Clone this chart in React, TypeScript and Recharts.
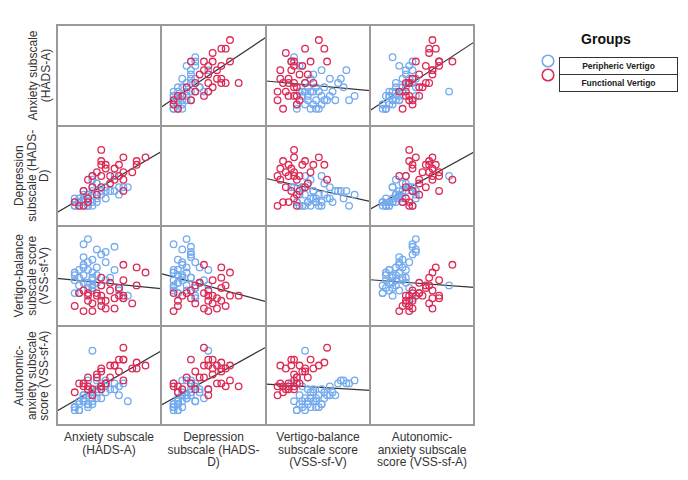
import React from 'react';
import { ScatterChart, Scatter, XAxis, YAxis, ReferenceLine } from 'recharts';

// Peripheric vertigo (blue), one entry per subject
const periAnxiety = [2, 3, 3, 4, 4, 5, 5, 2, 3, 6, 6, 7, 4, 5, 8, 9, 7, 6, 8, 10, 11, 12, 14, 13, 4, 2, 6, 7, 9, 6, 6, 3, 4, 7, 5, 5, 11, 9, 12, 2, 4, 6];
const periDepression = [1, 2, 1, 2, 3, 2, 1, 2, 3, 4, 2, 3, 1, 4, 5, 6, 7, 8, 4, 5, 9, 4, 6, 6, 5, 3, 6, 7, 5, 9, 1, 2, 2, 2, 1, 3, 5, 3, 6, 1, 4, 5];
const periVertigo = [14, 18, 12, 16, 20, 13, 11, 9, 15, 17, 22, 26, 28, 30, 24, 21, 19, 14, 12, 15, 18, 10, 8, 7, 23, 16, 11, 13, 25, 12, 10, 9, 13, 16, 18, 21, 27, 14, 11, 17, 19, 15];
const periAutonomic = [2, 3, 1, 4, 6, 3, 2, 1, 4, 6, 7, 11, 10, 11, 10, 9, 7, 5, 5, 8, 8, 6, 4, 10, 6, 2, 4, 8, 11, 21, 3, 1, 4, 5, 3, 6, 10, 7, 9, 2, 5, 7];

// Functional vertigo (red)
const funcAnxiety = [8, 18, 16, 13, 12, 11, 8, 8, 9, 10, 13, 15, 7, 8, 5, 6, 8, 13, 11, 3, 4, 5, 2, 7, 10, 12, 6, 5, 4, 16, 9, 13];
const funcDepression = [16, 14, 12, 8, 12, 11, 13, 12, 11, 9, 10, 10, 10, 9, 8, 9, 6, 5, 8, 1, 1, 2, 2, 4, 7, 9, 6, 3, 5, 13, 12, 14];
const funcVertigo = [8, 17, 19, 20, 11, 7, 4, 15, 3, 10, 14, 5, 8, 6, 9, 2, 12, 7, 3, 9, 2, 6, 4, 9, 13, 8, 5, 8, 10, 12, 6, 8];
const funcAutonomic = [9, 16, 17, 22, 14, 16, 9, 15, 10, 16, 18, 15, 13, 8, 12, 6, 14, 18, 16, 10, 9, 9, 7, 12, 12, 18, 8, 8, 10, 15, 10, 11];

const varLabels = [
  ['Anxiety subscale', '(HADS-A)'],
  ['Depression', 'subscale (HADS-', 'D)'],
  ['Vertigo-balance', 'subscale score', '(VSS-sf-V)'],
  ['Autonomic-', 'anxiety subscale', 'score (VSS-sf-A)'],
];
const groupNames = ['Peripheric Vertigo', 'Functional Vertigo'];

const periVars = [periAnxiety, periDepression, periVertigo, periAutonomic];
const funcVars = [funcAnxiety, funcDepression, funcVertigo, funcAutonomic];

const BLUE = '#74aaee';
const RED = '#dc2a55';
const FONT = '"Liberation Sans", Arial, sans-serif';

const COLS = [57, 161, 266, 370, 474];
const ROWS = [25, 126, 226, 326, 425];
const X_DOMAIN: [number, number][] = [[-2, 21.5], [-1.9, 22.3], [-2.2, 35.6], [-2.8, 28.5]];
const Y_DOMAIN: [number, number][] = [[-2, 21.5], [-4.4, 22.4], [-3.8, 35.1], [-4, 29.3]];

const fit = (xs: number[], ys: number[]) => {
  const n = xs.length;
  const mx = xs.reduce((s, v) => s + v, 0) / n;
  const my = ys.reduce((s, v) => s + v, 0) / n;
  let sxy = 0, sxx = 0;
  xs.forEach((x, i) => { sxy += (x - mx) * (ys[i] - my); sxx += (x - mx) * (x - mx); });
  const b = sxy / sxx;
  return { a: my - b * mx, b };
};

const ring = (color: string) => (p: any) => (
  <circle cx={p.cx} cy={p.cy} r={3.3} fill="none" stroke={color} strokeWidth={1.3} />
);

const MatrixCell = ({ row, col }: { row: number; col: number }) => {
  const w = COLS[col + 1] - COLS[col];
  const h = ROWS[row + 1] - ROWS[row];
  const blue = periVars[col].map((x, i) => ({ x, y: periVars[row][i] }));
  const red = funcVars[col].map((x, i) => ({ x, y: funcVars[row][i] }));
  const { a, b } = fit([...periVars[col], ...funcVars[col]], [...periVars[row], ...funcVars[row]]);
  const [x0, x1] = X_DOMAIN[col];
  return (
    <div style={{ position: 'absolute', left: COLS[col], top: ROWS[row] }}>
      <ScatterChart width={w} height={h} margin={{ top: 0, right: 0, bottom: 0, left: 0 }}>
        <XAxis type="number" dataKey="x" domain={X_DOMAIN[col]} hide allowDataOverflow />
        <YAxis type="number" dataKey="y" domain={Y_DOMAIN[row]} hide allowDataOverflow />
        <Scatter data={blue} shape={ring(BLUE)} isAnimationActive={false} />
        <Scatter data={red} shape={ring(RED)} isAnimationActive={false} />
        <ReferenceLine
          segment={[{ x: x0, y: a + b * x0 }, { x: x1, y: a + b * x1 }]}
          stroke="#333"
          strokeWidth={1.2}
          ifOverflow="visible"
        />
      </ScatterChart>
    </div>
  );
};

const LINE_H = 12.5;

export default function App() {
  const cells = [];
  for (let r = 0; r < 4; r++) {
    for (let c = 0; c < 4; c++) {
      if (r !== c) cells.push(<MatrixCell key={`${r}-${c}`} row={r} col={c} />);
    }
  }
  return (
    <div style={{ position: 'absolute', left: 0, top: 0, width: 688, height: 480, background: '#fff', fontFamily: FONT, color: '#333' }}>
      {cells}

      {/* grid lines */}
      {COLS.map((x) => (
        <div key={`v${x}`} style={{ position: 'absolute', left: x - 1, top: ROWS[0] - 1, width: 2, height: ROWS[4] - ROWS[0] + 2, background: '#9a9a9a' }} />
      ))}
      {ROWS.map((y) => (
        <div key={`h${y}`} style={{ position: 'absolute', left: COLS[0] - 1, top: y - 1, width: COLS[4] - COLS[0] + 2, height: 2, background: '#9a9a9a' }} />
      ))}

      {/* row titles */}
      {varLabels.map((lines, i) => {
        const hgt = lines.length * LINE_H;
        const cy = (ROWS[i] + ROWS[i + 1]) / 2;
        const cx = 51 - hgt / 2;
        return (
          <div key={`r${i}`} style={{
            position: 'absolute', left: cx - 55, top: cy - hgt / 2, width: 110, height: hgt,
            transform: 'rotate(-90deg)', textAlign: 'center', fontSize: 12, lineHeight: `${LINE_H}px`, whiteSpace: 'nowrap',
          }}>
            {lines.map((l) => <div key={l}>{l}</div>)}
          </div>
        );
      })}

      {/* column titles */}
      {varLabels.map((lines, i) => (
        <div key={`c${i}`} style={{
          position: 'absolute', left: COLS[i], top: 431, width: COLS[i + 1] - COLS[i],
          textAlign: 'center', fontSize: 12, lineHeight: `${LINE_H}px`, whiteSpace: 'nowrap',
        }}>
          {lines.map((l) => <div key={l}>{l}</div>)}
        </div>
      ))}

      {/* legend */}
      <div style={{ position: 'absolute', left: 556, top: 31, width: 100, textAlign: 'center', fontSize: 14, fontWeight: 'bold', color: '#111' }}>Groups</div>
      <svg style={{ position: 'absolute', left: 538, top: 52 }} width={20} height={32}>
        <circle cx={10} cy={9} r={5.8} fill="none" stroke={BLUE} strokeWidth={1.6} />
        <circle cx={10} cy={23} r={5.8} fill="none" stroke={RED} strokeWidth={1.6} />
      </svg>
      <div style={{ position: 'absolute', left: 559, top: 57, width: 117, border: '1px solid #333', color: '#222' }}>
        {groupNames.map((g, i) => (
          <div key={g} style={{ height: 16, lineHeight: '16px', textAlign: 'center', fontSize: 8.5, fontWeight: 'bold', borderTop: i ? '1px solid #333' : 'none' }}>{g}</div>
        ))}
      </div>
    </div>
  );
}
